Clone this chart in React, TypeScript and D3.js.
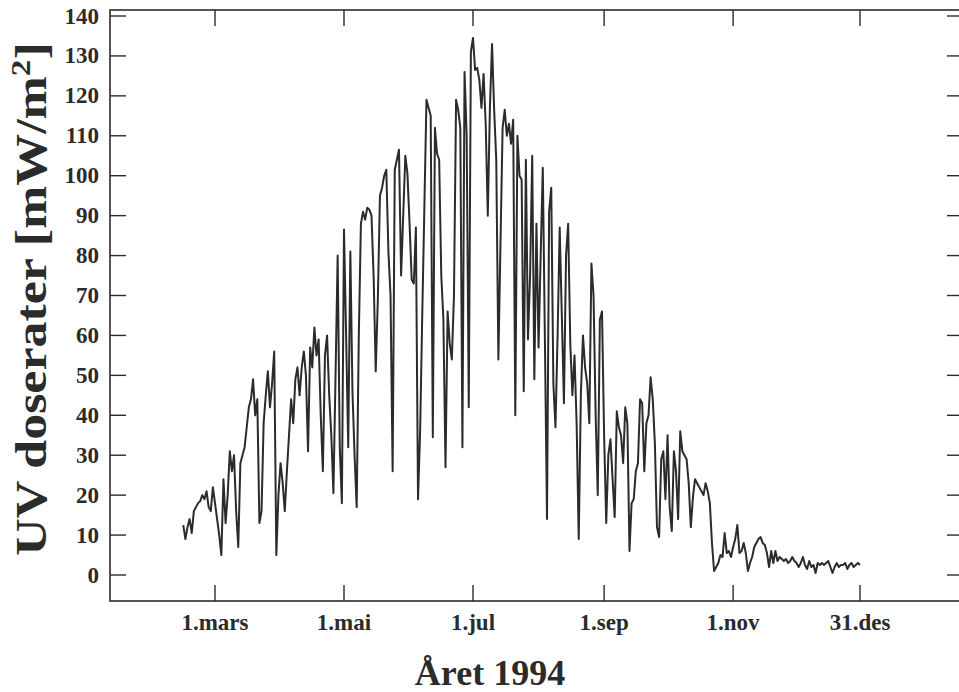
import React from "react";
import * as d3 from "d3";

// First day of year covered by the measurements
const startDay = 45;

// Daily UV dose rates [mW/m²], in consecutive segments
const uvFebMar = [12.5, 9, 12, 14, 10.5, 16, 17, 18, 18.5, 20, 19, 21, 17, 16, 22, 18, 14, 10, 5, 24, 13, 20, 31, 26, 30, 16, 7, 28, 30, 32, 37, 42, 44, 49, 40, 44, 13, 16, 38, 45, 51, 42, 48, 56, 5, 20, 28, 23, 16, 26, 35, 44, 38, 49, 52, 45];
const uvAprMay = [52, 56, 50, 31, 57, 52, 62, 55, 59, 40, 26, 55, 60, 45, 35, 20.5, 50, 80, 32, 18, 86.5, 60, 32, 81, 46, 30, 17, 60, 88, 91, 89, 92, 91.5, 90, 75, 51, 69, 95, 97, 100, 101.5, 81, 70, 26, 101.5, 104, 106.5, 75, 90, 105, 100.5, 88];
const uvJunJul = [74, 73, 87, 19, 36, 65, 92, 119, 117, 115, 34.5, 112, 105.5, 104, 75, 64, 27, 66, 58, 54, 70, 119, 116.5, 112, 32, 126, 110, 42, 131, 134.5, 126.5, 127, 124, 117, 125.5, 113, 90, 117, 133, 116.5, 104, 54, 83, 112, 116.5, 110, 113, 108];
const uvJulAug = [114, 40, 110, 100, 99, 46, 104, 59, 75, 105, 49, 88, 57, 80, 102, 59, 14, 91, 97, 48, 37, 60, 87, 65, 43, 80, 88, 58, 45, 55, 38, 9, 45, 60, 52, 48, 38, 78, 70, 40, 20, 64, 66, 35, 13];
const uvSepOct = [30, 34, 24, 14.5, 41, 37, 35, 28, 42, 38, 6, 18, 19, 26, 28, 44, 43, 26, 38, 40, 49.5, 44, 33, 12, 9.5, 29, 31, 19, 35, 17, 11, 31, 26, 14, 36, 31, 30, 29, 23, 12, 19.5, 24, 23, 22, 21];
const uvOctDec = [20, 23, 21, 18, 8, 1, 2, 3, 5, 4.5, 10.5, 5.5, 6, 4.5, 7, 9, 12.5, 5.5, 6, 8, 5.5, 1, 3, 4.5, 7, 8, 9, 9.5, 8, 7.5, 5.5, 2, 6, 3, 6, 3.5, 4.5, 4, 3.5, 4, 3, 3.5, 4.5, 3.5, 3, 2, 3, 4.5, 2.5, 1.5, 3.5, 2, 2.5, 0.5, 3, 2.5, 3, 2.5, 3, 3.5, 2, 0.5, 2, 3, 2, 2.5, 2.5, 3, 1.5, 2.5, 3, 2, 2.5, 3, 2.5];

// Axis ticks
const yTicks = [0, 10, 20, 30, 40, 50, 60, 70, 80, 90, 100, 110, 120, 130, 140];
const xTickDays = [60, 121, 182, 244, 305, 365];
const xTickLabels = ["1.mars", "1.mai", "1.jul", "1.sep", "1.nov", "31.des"];

const yTitle = "UV doserater [mW/m";
const xTitle = "Året 1994";

const W = 959;
const H = 692;
const frame = { left: 110, right: 963, top: 10, bottom: 601 };
const FONT = "'Liberation Serif', 'Times New Roman', serif";
const INK = "#2b2b2b";

export default function App() {
  const values = [...uvFebMar, ...uvAprMay, ...uvJunJul, ...uvJulAug, ...uvSepOct, ...uvOctDec];
  const data = values.map((v, i) => ({ day: startDay + i, v }));

  const x = d3.scaleLinear().domain([60, 365]).range([215, 860]);
  const y = d3.scaleLinear().domain([0, 140]).range([575, 16]);

  const line = d3
    .line<{ day: number; v: number }>()
    .x((d) => x(d.day))
    .y((d) => y(d.v))
    .curve(d3.curveLinear);

  const tickLen = 16;

  return (
    <svg
      width={W}
      height={H}
      viewBox={`0 0 ${W} ${H}`}
      style={{ position: "absolute", left: 0, top: 0, background: "#fff" }}
    >
      <rect x={0} y={0} width={W} height={H} fill="#fff" />
      {/* frame */}
      <rect
        x={frame.left}
        y={frame.top}
        width={frame.right - frame.left}
        height={frame.bottom - frame.top}
        fill="none"
        stroke={INK}
        strokeWidth={1.6}
      />
      {/* y ticks */}
      {yTicks.map((t) => (
        <g key={`y${t}`}>
          <line x1={frame.left} x2={frame.left + tickLen} y1={y(t)} y2={y(t)} stroke={INK} strokeWidth={1.4} />
          <line x1={frame.right - tickLen} x2={frame.right} y1={y(t)} y2={y(t)} stroke={INK} strokeWidth={1.4} />
          <text
            x={99}
            y={y(t)}
            textAnchor="end"
            dominantBaseline="central"
            fontFamily={FONT}
            fontWeight="bold"
            fontSize={23}
            fill={INK}
          >
            {t}
          </text>
        </g>
      ))}
      {/* x ticks */}
      {xTickDays.map((d, i) => (
        <g key={`x${d}`}>
          <line x1={x(d)} x2={x(d)} y1={frame.bottom} y2={frame.bottom - tickLen} stroke={INK} strokeWidth={1.4} />
          <line x1={x(d)} x2={x(d)} y1={frame.top} y2={frame.top + tickLen} stroke={INK} strokeWidth={1.4} />
          <text
            x={x(d)}
            y={630}
            textAnchor="middle"
            fontFamily={FONT}
            fontWeight="bold"
            fontSize={23}
            fill={INK}
          >
            {xTickLabels[i]}
          </text>
        </g>
      ))}
      {/* data line */}
      <path d={line(data) || ""} fill="none" stroke={INK} strokeWidth={2} strokeLinejoin="round" />
      {/* axis titles */}
      <text
        x={490}
        y={685}
        textAnchor="middle"
        fontFamily={FONT}
        fontWeight="bold"
        fontSize={36}
        fill={INK}
      >
        {xTitle}
      </text>
      <text
        transform={`translate(46, 299) rotate(-90) scale(1.18, 1)`}
        textAnchor="middle"
        fontFamily={FONT}
        fontWeight="bold"
        fontSize={44}
        fill={INK}
      >
        {yTitle}
        <tspan dy={-16} fontSize={28}>2</tspan>
        <tspan dy={16}>]</tspan>
      </text>
    </svg>
  );
}
